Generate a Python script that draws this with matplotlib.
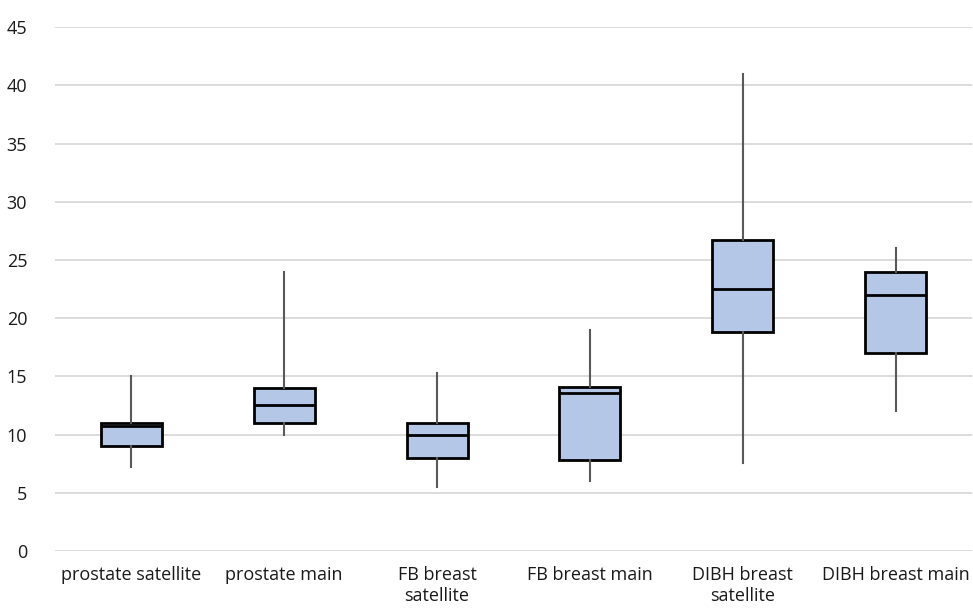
import matplotlib
matplotlib.use('Agg')
import matplotlib.pyplot as plt

# data
categories = ["prostate satellite", "prostate main", "FB breast\nsatellite",
              "FB breast main", "DIBH breast\nsatellite", "DIBH breast main"]
whisker_low = [7.2, 10.0, 5.5, 6.0, 7.6, 12.0]
q1 = [9.0, 11.0, 8.0, 7.8, 18.8, 17.0]
median = [10.7, 12.5, 10.0, 13.6, 22.5, 22.0]
q3 = [11.0, 14.0, 11.0, 14.1, 26.7, 24.0]
whisker_high = [15.0, 24.0, 15.3, 19.0, 41.0, 26.0]
yticks = [0, 5, 10, 15, 20, 25, 30, 35, 40, 45]

plt.rcParams['font.family'] = ['Open Sans', 'DejaVu Sans']

fig = plt.figure(figsize=(9.73, 6.12), dpi=100)
ax = fig.add_axes([0.0565, 0.0997, 0.9425, 0.856])

stats = []
for i, name in enumerate(categories):
    stats.append(dict(label=name, whislo=whisker_low[i], q1=q1[i], med=median[i],
                      q3=q3[i], whishi=whisker_high[i], fliers=[]))

ax.bxp(stats, positions=range(len(categories)), widths=0.4, showcaps=False,
       showfliers=False, patch_artist=True,
       boxprops=dict(facecolor='#B4C7E7', edgecolor='black', linewidth=2),
       medianprops=dict(color='black', linewidth=2),
       whiskerprops=dict(color='#595959', linewidth=1.5))

ax.set_xlim(-0.5, len(categories) - 0.5)
ax.set_ylim(0, 45)
ax.set_yticks(yticks)
ax.yaxis.grid(True, color='#D9D9D9', linewidth=1.3)
ax.set_axisbelow(True)
for s in ax.spines.values():
    s.set_visible(False)
ax.tick_params(axis='both', length=0, labelsize=13, colors='#1a1a1a')
ax.tick_params(axis='y', pad=20)
ax.tick_params(axis='x', pad=11)
for lbl in ax.get_xticklabels():
    lbl.set_linespacing(1.2)

plt.savefig('out.png', dpi=100, facecolor='white')
plt.close()
